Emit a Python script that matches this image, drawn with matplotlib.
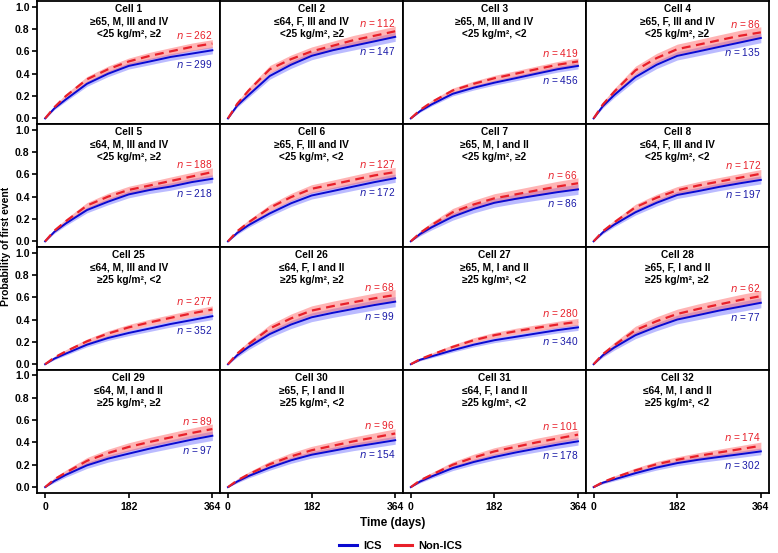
import matplotlib
matplotlib.use('Agg')
import matplotlib.pyplot as plt
from matplotlib.lines import Line2D
import numpy as np

plt.rcParams['font.family'] = ['Liberation Sans', 'DejaVu Sans']

days = [0, 20, 45, 91, 137, 182, 228, 273, 319, 364]

cells = [1, 2, 3, 4, 5, 6, 7, 8, 25, 26, 27, 28, 29, 30, 31, 32]
line2 = ['\u226565, M, III and IV', '\u226464, F, III and IV', '\u226565, M, III and IV', '\u226565, F, III and IV',
         '\u226464, M, III and IV', '\u226565, F, III and IV', '\u226565, M, I and II', '\u226464, F, III and IV',
         '\u226464, M, III and IV', '\u226464, F, I and II', '\u226565, M, I and II', '\u226565, F, I and II',
         '\u226464, M, I and II', '\u226565, F, I and II', '\u226464, F, I and II', '\u226464, M, I and II']
line3 = ['<25', '<25', '<25', '<25', '<25', '<25', '<25', '<25',
         '\u226525', '\u226525', '\u226525', '\u226525', '\u226525', '\u226525', '\u226525', '\u226525']
line3b = ['\u22652', '\u22652', '<2', '\u22652', '\u22652', '<2', '\u22652', '<2',
          '<2', '\u22652', '<2', '\u22652', '\u22652', '<2', '<2', '<2']

n_non = [262, 112, 419, 86, 188, 127, 66, 172, 277, 68, 280, 62, 89, 96, 101, 174]
n_ics = [299, 147, 456, 135, 218, 172, 86, 197, 352, 99, 340, 77, 97, 154, 178, 302]

non_ics = [
    [0, .10, .20, .35, .44, .51, .56, .60, .64, .67],
    [0, .13, .25, .44, .53, .60, .65, .70, .74, .78],
    [0, .075, .145, .25, .31, .36, .40, .44, .48, .51],
    [0, .125, .24, .43, .54, .62, .66, .70, .74, .77],
    [0, .095, .18, .32, .40, .46, .50, .54, .58, .62],
    [0, .09, .17, .30, .395, .47, .51, .55, .59, .62],
    [0, .075, .145, .26, .33, .385, .42, .455, .49, .52],
    [0, .09, .17, .305, .39, .457, .50, .535, .57, .605],
    [0, .06, .115, .205, .275, .33, .375, .415, .455, .49],
    [0, .095, .18, .32, .41, .48, .52, .555, .59, .62],
    [0, .045, .085, .155, .215, .26, .295, .325, .355, .38],
    [0, .09, .17, .305, .385, .45, .495, .535, .575, .61],
    [0, .07, .13, .235, .305, .36, .405, .445, .485, .52],
    [0, .06, .115, .205, .275, .33, .37, .41, .445, .48],
    [0, .06, .11, .20, .265, .32, .36, .40, .435, .47],
    [0, .045, .085, .15, .205, .245, .28, .31, .34, .37],
]
ics = [
    [0, .09, .17, .31, .40, .47, .51, .55, .58, .61],
    [0, .115, .21, .38, .48, .56, .61, .65, .69, .73],
    [0, .065, .125, .22, .275, .32, .36, .40, .44, .47],
    [0, .11, .21, .37, .48, .56, .60, .64, .68, .72],
    [0, .085, .16, .28, .355, .42, .46, .49, .53, .56],
    [0, .075, .145, .25, .34, .41, .45, .49, .53, .565],
    [0, .065, .125, .22, .29, .345, .38, .41, .44, .465],
    [0, .08, .15, .26, .345, .415, .45, .487, .52, .55],
    [0, .05, .095, .175, .235, .28, .32, .36, .395, .43],
    [0, .08, .155, .27, .355, .42, .46, .495, .53, .56],
    [0, .04, .07, .125, .175, .215, .245, .275, .305, .33],
    [0, .08, .15, .26, .335, .40, .44, .48, .515, .55],
    [0, .055, .11, .195, .255, .30, .345, .385, .425, .46],
    [0, .05, .10, .175, .24, .29, .325, .36, .39, .42],
    [0, .05, .095, .17, .225, .27, .31, .345, .38, .41],
    [0, .04, .07, .125, .175, .215, .245, .27, .295, .32],
]
# 95% CI half-width at day 364
ci_non = [.035, .045, .03, .05, .038, .042, .048, .038, .032, .048, .03, .05, .045, .042, .04, .033]
ci_ics = [.032, .04, .027, .042, .035, .037, .045, .036, .03, .045, .027, .045, .042, .036, .034, .03]

BLUE = '#0a0ad0'
RED = '#e8202a'

fig, axes = plt.subplots(4, 4, figsize=(7.78, 5.53), dpi=100, sharex=True, sharey=True)
fig.subplots_adjust(left=0.048, right=0.988, top=0.998, bottom=0.109, wspace=0, hspace=0)

for i, ax in enumerate(axes.flat):
    t = np.array(days)
    r = np.array(non_ics[i])
    b = np.array(ics[i])
    hb = ci_ics[i] * np.sqrt(b / b[-1])
    hr = ci_non[i] * np.sqrt(r / r[-1])
    ax.fill_between(t, b - hb, b + hb, color='#6a6aff', alpha=0.45, lw=0)
    ax.fill_between(t, r - hr, r + hr, color='#ff5a5a', alpha=0.45, lw=0)
    ax.plot(t, b, color=BLUE, lw=1.4)
    ax.plot(t, r, color=RED, lw=1.6, dashes=(4, 2.5))

    ax.text(0.5, 0.975, 'Cell %d\n%s\n%s kg/m\u00b2, %s' % (cells[i], line2[i], line3[i], line3b[i]),
            transform=ax.transAxes, ha='center', va='top', fontsize=7.3,
            fontweight='bold', linespacing=1.3)
    ax.text(364, r[-1] + 0.075, r'$\it{n}$ = %d' % n_non[i], color=RED, ha='right', va='center', fontsize=7.3)
    ax.text(364, b[-1] - 0.125, r'$\it{n}$ = %d' % n_ics[i], color='#1a1aa8', ha='right', va='center', fontsize=7.3)

    ax.set_xlim(-17, 381)
    ax.set_ylim(-0.05, 1.05)
    ax.set_xticks([0, 182, 364])
    ax.set_yticks([0, 0.2, 0.4, 0.6, 0.8, 1.0])
    for s in ax.spines.values():
        s.set_linewidth(1.3)
    ax.tick_params(direction='out', length=3.5, width=1.2, labelsize=7.5, pad=2)
    for lab in ax.get_xticklabels() + ax.get_yticklabels():
        lab.set_fontweight('bold')

for ax in axes[:, 1:].flat:
    ax.tick_params(axis='y', left=False)
for ax in axes[:-1, :].flat:
    ax.tick_params(axis='x', bottom=False)
for ax in axes[-1, :]:
    ax.tick_params(axis='x', labelbottom=True, pad=3)
for ax in axes[:, 0]:
    ax.yaxis.set_major_formatter(matplotlib.ticker.FormatStrFormatter('%.1f'))

fig.text(0.001, 0.555, 'Probability of first event', rotation=90, ha='left', va='center',
         fontsize=7.5, fontweight='bold')
fig.text(0.505, 0.054, 'Time (days)', ha='center', va='center', fontsize=8.5, fontweight='bold')

handles = [Line2D([], [], color=BLUE, lw=2.2), Line2D([], [], color=RED, lw=2.2)]
fig.legend(handles, ['ICS', 'Non-ICS'], loc='center', bbox_to_anchor=(0.515, 0.013), ncol=2,
           frameon=False, prop={'weight': 'bold', 'size': 8}, handlelength=1.6, columnspacing=1.2,
           handletextpad=0.5, borderpad=0.2)

fig.savefig('out.png', dpi=100)
